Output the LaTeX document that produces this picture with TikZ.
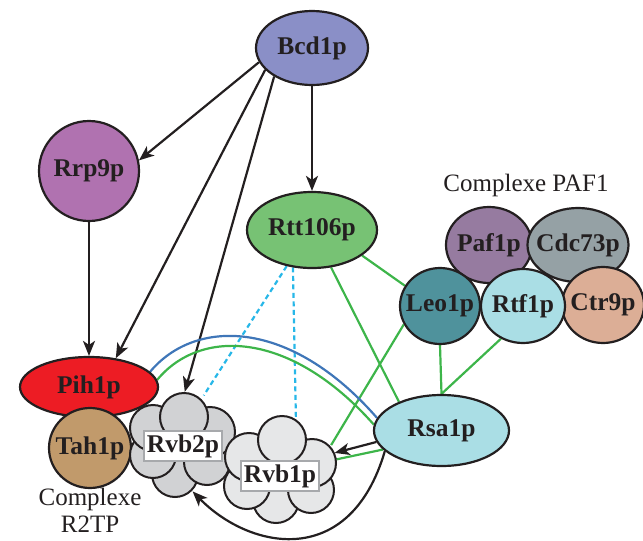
\documentclass[tikz,border=0pt]{standalone}
\usepackage{fontspec}
\setmainfont{Liberation Serif}
\usetikzlibrary{shapes.geometric,arrows.meta,backgrounds}

\definecolor{inkcol}{HTML}{231F20}
\definecolor{bcdcol}{HTML}{8A8FC7}
\definecolor{rrpcol}{HTML}{B072B0}
\definecolor{rttcol}{HTML}{77C274}
\definecolor{pihcol}{HTML}{ED1C24}
\definecolor{tahcol}{HTML}{C19A6B}
\definecolor{rvbIIcol}{HTML}{D1D2D4}
\definecolor{rvbIcol}{HTML}{E6E7E8}
\definecolor{rsacol}{HTML}{AADEE5}
\definecolor{pafcol}{HTML}{967BA0}
\definecolor{cdccol}{HTML}{95A1A5}
\definecolor{leocol}{HTML}{4F929C}
\definecolor{rtfcol}{HTML}{AADEE5}
\definecolor{ctrcol}{HTML}{DCAE96}
\definecolor{tagcol}{HTML}{A7A9AC}
\definecolor{linkgreen}{HTML}{3DB54A}
\definecolor{linkblue}{HTML}{3F76B8}
\definecolor{linkcyan}{HTML}{27B7E8}

\begin{document}
\begin{tikzpicture}[x=1pt,y=-1pt,>={Stealth[length=15pt,width=12pt,inset=4pt]},
    prot/.style={ellipse,draw=inkcol,line width=2.2pt,inner sep=0pt},
    pname/.style={text=inkcol,inner sep=0pt,font=\bfseries\fontsize{25.5}{28}\selectfont},
    puff/.style={draw=inkcol,line width=2pt},
    tag/.style={draw=tagcol,fill=white,line width=2pt,inner xsep=3pt,inner ysep=3.5pt,
        text=inkcol,font=\bfseries\fontsize{25.5}{28}\selectfont},
    note/.style={text=inkcol,align=center,font=\fontsize{25}{27}\selectfont},
    arr/.style={->,draw=inkcol,line width=2.2pt},
    glink/.style={draw=linkgreen,line width=2.2pt},
    blink/.style={draw=linkblue,line width=2.2pt},
    dlink/.style={draw=linkcyan,line width=2.2pt,dash pattern=on 5pt off 3.5pt}]
    \useasboundingbox (0,0) rectangle (643,541);

    % top of the cascade
    \node[prot,fill=bcdcol,minimum width=112pt,minimum height=74pt,
        label={[pname]center:Bcd1p}] (bcd) at (312,48) {};
    \node[prot,fill=rrpcol,minimum width=100pt,minimum height=100pt,
        label={[pname]center:Rrp9p}] (rrp) at (89,171) {};
    \node[prot,fill=rttcol,minimum width=130pt,minimum height=76pt,
        label={[pname]center:Rtt106p}] (rtt) at (312,230) {};

    % complexe R2TP
    \node[prot,fill=pihcol,minimum width=138pt,minimum height=60pt,
        label={[pname]center:Pih1p}] (pih) at (89,387) {};
    \node[prot,fill=tahcol,minimum width=82pt,minimum height=80pt,
        label={[pname]center:Tah1p}] (tah) at (90,448) {};
    \node[note] (rtwotp) at (90,510) {Complexe\\R2TP};

    % Rvb2p cloud
    \node[ellipse,minimum width=110pt,minimum height=100pt,inner sep=0pt] (rvb2) at (183,442) {};
    \fill[rvbIIcol] (183,445) circle (30pt);
    \foreach \cx/\cy/\cr in {175/474/23,153/455/23,207/462/23,153/428/23,210/432/25,184/417/24}
        \filldraw[puff,fill=rvbIIcol] (\cx,\cy) circle (\cr pt);
    \node[tag] (rvb2tag) at (183,446) {Rvb2p};

    % Rvb1p cloud
    \node[ellipse,minimum width=110pt,minimum height=100pt,inner sep=0pt] (rvb1) at (282,468) {};
    \fill[rvbIcol] (281,470) circle (30pt);
    \foreach \cx/\cy/\cr in {276/500/23,247/486/23,311/490/23,249/457/24,312/463/24,282/440/24}
        \filldraw[puff,fill=rvbIcol] (\cx,\cy) circle (\cr pt);
    \node[tag] (rvb1tag) at (280,476) {Rvb1p};

    \node[prot,fill=rsacol,minimum width=135pt,minimum height=71pt,
        label={[pname]center:Rsa1p}] (rsa) at (441.5,430.5) {};

    % complexe PAF1
    \node[note] (paftitle) at (526,185) {Complexe PAF1};
    \node[prot,fill=pafcol,minimum width=86pt,minimum height=76pt,
        label={[pname]center:Paf1p}] (paf) at (489,245) {};
    \node[prot,fill=cdccol,minimum width=101pt,minimum height=74pt,
        label={[pname]center:Cdc73p}] (cdc) at (578,245) {};
    \node[prot,fill=ctrcol,minimum width=82pt,minimum height=76pt,
        label={[pname]center:Ctr9p}] (ctr) at (603,305) {};
    \node[prot,fill=leocol,minimum width=80pt,minimum height=76pt,
        label={[pname]center:Leo1p}] (leo) at (440,306) {};
    \node[prot,fill=rtfcol,minimum width=84pt,minimum height=74pt,
        label={[pname]center:Rtf1p}] (rtf) at (523,306) {};

    \begin{pgfonlayer}{background}
        % arrows
        \draw[arr] (bcd.195) -- (rrp.12);
        \draw[arr] (bcd.205) -- (pih.47);
        \draw[arr] (bcd.217) -- (rvb2.88);
        \draw[arr] (bcd.south) -- (rtt.north);
        \draw[arr] (rrp.south) -- (pih.north);
        \draw[arr] (rsa.190) -- (rvb1.16);
        \draw[arr] (rsa.200) .. controls (350,570) and (250,550) .. (rvb2.281);

        % dashed links
        \draw[dlink] (rtt.235) -- (rvb2.66);
        \draw[dlink] (rtt.243) -- (rvb1.74);

        % green links
        \draw[glink] (rtt.333) -- (leo.150);
        \draw[glink] (rtt.297) -- (rsa.146);
        \draw[glink] (leo.207) -- (rvb1.25);
        \draw[glink] (leo.south) -- (rsa.north);
        \draw[glink] (rtf.236) -- (rsa.north);
        \draw[glink] (rsa.198) -- (rvb1.9);
        \draw[glink] (pih.6) .. controls (200,328) and (290,330) .. (rsa.175);
        \draw[blink] (pih.14) .. controls (195,318) and (290,318) .. (rsa.169);
    \end{pgfonlayer}
\end{tikzpicture}
\end{document}
